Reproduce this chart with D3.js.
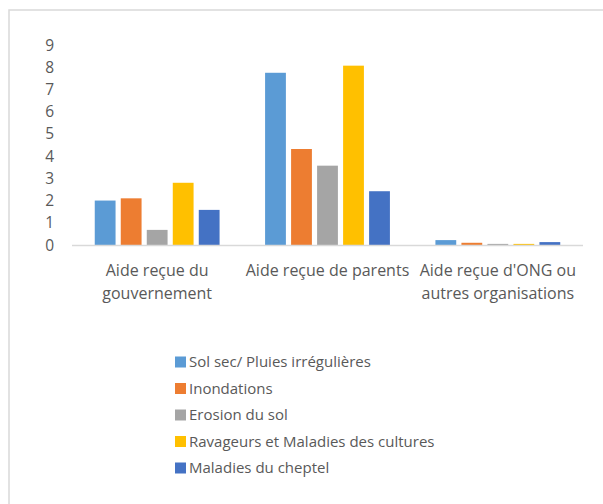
<!DOCTYPE html>
<html>
<head>
<meta charset="utf-8">
<script src="https://cdn.jsdelivr.net/npm/d3@7"></script>
<style>
    body { margin: 0; background: #fff; }
    svg { display: block; font-family: "Open Sans", "Liberation Sans", sans-serif; }
</style>
</head>
<body>
<svg id="chart"></svg>
<script>
const WIDTH = 603
const HEIGHT = 504

// data
const categories = [
    ["Aide reçue du", "gouvernement"],
    ["Aide reçue de parents"],
    ["Aide reçue d'ONG ou", "autres organisations"]
]
const seriesNames = [
    "Sol sec/ Pluies irrégulières",
    "Inondations",
    "Erosion du sol",
    "Ravageurs et Maladies des cultures",
    "Maladies du cheptel"
]
const seriesColors = ["#5b9bd5", "#ed7d31", "#a5a5a5", "#ffc000", "#4472c4"]
const solSec = [2.0, 7.75, 0.22]
const inondations = [2.1, 4.32, 0.1]
const erosion = [0.68, 3.57, 0.05]
const ravageurs = [2.8, 8.07, 0.05]
const cheptel = [1.58, 2.42, 0.13]
const yTicks = [0, 1, 2, 3, 4, 5, 6, 7, 8, 9]

const series = [solSec, inondations, erosion, ravageurs, cheptel]

const svg = d3.select("#chart").attr("width", WIDTH).attr("height", HEIGHT)

// chart frame, runs off the right and bottom edges
svg.append("rect")
    .attr("x", 9).attr("y", 10)
    .attr("width", WIDTH).attr("height", HEIGHT)
    .attr("fill", "#fff")
    .attr("stroke", "#d9d9d9")
    .attr("stroke-width", 1.5)

const plot = { left: 72, right: 583, top: 45, bottom: 245 }

const y = d3.scaleLinear().domain([0, 9]).range([plot.bottom, plot.top])
const x0 = d3.scaleBand()
    .domain(d3.range(categories.length))
    .range([plot.left, plot.right])
const x1 = d3.scaleBand()
    .domain(d3.range(series.length))
    .range([0, x0.bandwidth()])
    .paddingInner(0.2)
    .paddingOuter(0.875)

// y tick labels
svg.append("g").selectAll("text")
    .data(yTicks)
    .join("text")
    .attr("x", 54)
    .attr("y", d => y(d))
    .attr("dy", "0.36em")
    .attr("text-anchor", "end")
    .attr("font-size", 15.5)
    .attr("fill", "#595959")
    .text(d => d)

// bars
const groups = svg.append("g").selectAll("g")
    .data(categories.map((c, i) => i))
    .join("g")
    .attr("transform", i => `translate(${x0(i)},0)`)

groups.selectAll("rect")
    .data(i => series.map((s, j) => ({ j: j, v: s[i] })))
    .join("rect")
    .attr("x", d => x1(d.j))
    .attr("y", d => y(d.v))
    .attr("width", x1.bandwidth())
    .attr("height", d => y(0) - y(d.v))
    .attr("fill", d => seriesColors[d.j])

// baseline
svg.append("line")
    .attr("x1", plot.left).attr("x2", plot.right)
    .attr("y1", y(0) + 0.5).attr("y2", y(0) + 0.5)
    .attr("stroke", "#d9d9d9")
    .attr("stroke-width", 1.5)

// category labels
svg.append("g").selectAll("text")
    .data(categories)
    .join("text")
    .attr("text-anchor", "middle")
    .attr("font-size", 16)
    .attr("fill", "#595959")
    .each(function(lines, i) {
        d3.select(this).selectAll("tspan")
            .data(lines)
            .join("tspan")
            .attr("x", x0(i) + x0.bandwidth() / 2)
            .attr("y", (d, k) => 276 + k * 23)
            .text(d => d)
    })

// legend
const legend = svg.append("g").selectAll("g")
    .data(seriesNames)
    .join("g")
    .attr("transform", (d, i) => `translate(175,${362 + i * 26.5})`)

legend.append("rect")
    .attr("x", 0).attr("y", -5.5)
    .attr("width", 11).attr("height", 11)
    .attr("fill", (d, i) => seriesColors[i])

legend.append("text")
    .attr("x", 14)
    .attr("dy", "0.36em")
    .attr("font-size", 15)
    .attr("fill", "#595959")
    .text(d => d)
</script>
</body>
</html>
